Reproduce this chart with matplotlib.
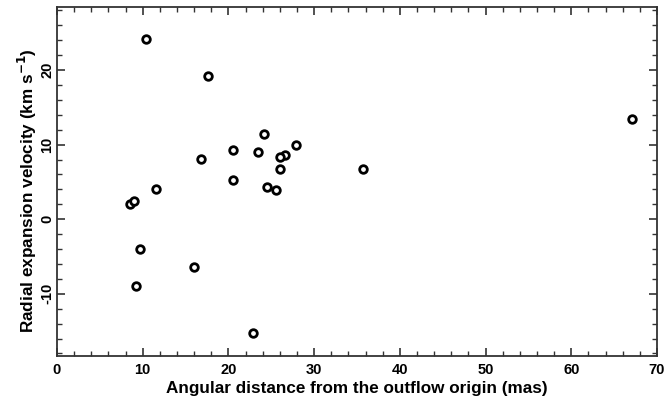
import matplotlib
matplotlib.use('Agg')
import matplotlib.pyplot as plt
from matplotlib.ticker import MultipleLocator

plt.rcParams['font.family'] = ['Liberation Sans', 'DejaVu Sans']
plt.rcParams['font.weight'] = 'bold'
plt.rcParams['mathtext.default'] = 'bf'
plt.rcParams['axes.unicode_minus'] = False

# angular distance (mas) and radial expansion velocity (km/s)
distance = [10.35, 17.58, 24.19, 20.57, 23.41, 27.85, 26.64, 26.06, 16.76, 26.02, 35.74,
            20.57, 24.54, 25.55, 11.55, 8.52, 9.02, 9.65, 15.95, 9.25, 22.9, 67.09]
velocity = [24.17, 19.19, 11.4, 9.25, 9.07, 9.88, 8.67, 8.27, 8.13, 6.73, 6.73,
            5.21, 4.36, 3.87, 4.05, 2.10, 2.46, -3.95, -6.45, -8.92, -15.24, 13.41]

fig = plt.figure(figsize=(6.68, 4.11), dpi=100)
ax = fig.add_axes([0.0853, 0.1345, 0.8982, 0.8477])

ax.scatter(distance, velocity, s=30, facecolors='white', edgecolors='black',
           linewidths=2.0, zorder=3)

ax.set_xlim(0, 70)
ax.set_ylim(-18.3, 28.4)
ax.xaxis.set_major_locator(MultipleLocator(10))
ax.xaxis.set_minor_locator(MultipleLocator(2))
ax.yaxis.set_major_locator(MultipleLocator(10))
ax.yaxis.set_minor_locator(MultipleLocator(2))

ax.tick_params(which='both', direction='in', top=True, right=True, color='#333333')
ax.tick_params(which='major', length=6, width=1.2, labelsize=10.5)
ax.tick_params(axis='x', which='major', pad=5)
ax.tick_params(axis='y', which='major', pad=2)
ax.tick_params(which='minor', length=3.5, width=1.0)
for lbl in ax.get_yticklabels():
    lbl.set_rotation(90)
    lbl.set_va('center')
for sp in ax.spines.values():
    sp.set_linewidth(1.3)
    sp.set_color('#333333')

ax.set_xlabel('Angular distance from the outflow origin (mas)', fontsize=12.3,
              fontweight='bold', labelpad=3)
ax.set_ylabel('Radial expansion velocity (km s$^{-1}$)', fontsize=12.3,
              fontweight='bold')
ax.yaxis.set_label_coords(-0.03, 0.474)

plt.savefig('out.png', dpi=100)
